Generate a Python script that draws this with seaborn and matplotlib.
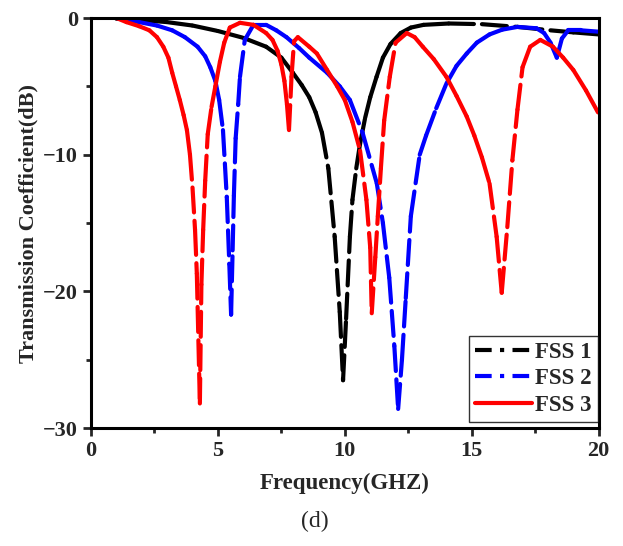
import pandas as pd
import seaborn as sns
import matplotlib.pyplot as plt
from matplotlib.lines import Line2D

# FSS 1 (black)
fss1_f = [1.0, 2.0, 3.0, 4.0, 5.0, 6.0, 6.9, 7.5, 7.95, 8.3, 8.6, 8.85, 9.1, 9.35,
          9.6, 9.8, 9.93, 10.05, 10.2, 10.3, 10.45, 10.6, 10.8, 11.0, 11.25, 11.5,
          11.8, 12.2, 12.6, 13.1, 14.1, 15.4, 16.8, 18.1, 19.0, 20.0]
fss1_db = [-0.05, -0.15, -0.3, -0.55, -0.95, -1.45, -2.1, -2.9, -4.0, -4.9, -5.8,
           -6.9, -8.4, -11.0, -16.0, -21.5, -26.5, -22.0, -16.0, -13.3, -11.0, -9.2,
           -7.3, -5.8, -4.3, -2.9, -1.9, -1.1, -0.7, -0.5, -0.4, -0.45, -0.65, -0.9,
           -1.05, -1.2]

# FSS 2 (blue)
fss2_f = [1.0, 1.9, 2.6, 3.2, 3.7, 4.2, 4.5, 4.7, 4.9, 5.05, 5.2, 5.35, 5.45, 5.52,
          5.58, 5.63, 5.7, 5.8, 5.87, 6.06, 6.4, 6.9, 7.3, 7.7, 8.2, 8.6, 9.3, 9.8,
          10.2, 10.7, 11.26, 11.5, 11.75, 11.95, 12.1, 12.25, 12.4, 12.6, 12.95, 13.2,
          13.6, 14.0, 14.4, 14.8, 15.2, 15.7, 16.2, 16.8, 17.55, 17.85, 18.1, 18.35,
          18.55, 18.8, 19.3, 20.0]
fss2_db = [0.0, -0.3, -0.55, -0.9, -1.4, -2.1, -2.8, -3.6, -4.6, -6.0, -8.2, -13.1,
           -18.0, -21.7, -17.0, -13.0, -8.8, -6.3, -4.3, -1.6, -0.5, -0.5, -0.9, -1.4,
           -2.2, -2.9, -4.0, -5.0, -6.0, -8.4, -12.1, -15.0, -19.0, -24.0, -28.6,
           -25.0, -20.5, -14.5, -10.0, -8.6, -6.6, -4.8, -3.5, -2.6, -1.8, -1.2,
           -0.85, -0.65, -0.75, -1.1, -1.8, -2.9, -1.5, -0.9, -0.9, -1.0]

# FSS 3 (red)
fss3_f = [1.0, 1.4, 1.9, 2.3, 2.6, 2.85, 3.05, 3.2, 3.35, 3.5, 3.65, 3.78, 3.9, 4.0,
          4.1, 4.17, 4.29, 4.35, 4.42, 4.5, 4.6, 4.75, 4.9, 5.08, 5.25, 5.47, 5.87,
          6.4, 6.9, 7.15, 7.35, 7.5, 7.62, 7.72, 7.8, 7.9, 8.0, 8.15, 8.6, 8.9, 9.3,
          9.7, 10.0, 10.3, 10.6, 10.85, 11.0, 11.06, 11.2, 11.3, 11.42, 11.55, 11.77,
          12.0, 12.44, 12.75, 13.07, 13.5, 14.0, 14.4, 14.8, 15.1, 15.4, 15.7, 15.98,
          16.18, 16.4, 16.6, 16.8, 17.0, 17.3, 17.7, 18.2, 18.6, 19.0, 19.5, 20.0]
fss3_db = [0.0, -0.3, -0.6, -0.9, -1.4, -2.1, -2.9, -4.0, -5.0, -6.0, -7.1, -8.2,
           -10.0, -12.4, -15.5, -18.7, -28.2, -19.5, -15.5, -11.9, -8.5, -6.5, -5.0,
           -3.2, -1.8, -0.7, -0.35, -0.5, -1.1, -1.6, -2.4, -3.4, -4.6, -6.3, -8.2,
           -4.3, -1.7, -1.4, -2.1, -2.6, -3.8, -5.0, -6.0, -7.6, -9.7, -13.3, -16.8,
           -21.6, -17.5, -14.5, -11.0, -7.5, -4.3, -1.8, -1.1, -1.4, -2.1, -3.0,
           -4.3, -5.7, -7.2, -8.6, -10.2, -12.1, -16.0, -20.1, -15.3, -10.4, -6.7,
           -3.6, -2.1, -1.6, -2.1, -2.9, -3.8, -5.3, -7.0]

names = ["FSS 1", "FSS 2", "FSS 3"]
colors = {"FSS 1": "black", "FSS 2": "#0000ff", "FSS 3": "#ff0000"}

# one unit per segment, so the dash pattern restarts on every step (Origin look)
rows = []
for name, f, db in zip(names, [fss1_f, fss2_f, fss3_f], [fss1_db, fss2_db, fss3_db]):
    for i in range(len(f) - 1):
        seg = f"{name}-{i}"
        rows.append((name, seg, f[i], db[i]))
        rows.append((name, seg, f[i + 1], db[i + 1]))
df = pd.DataFrame(rows, columns=["series", "seg", "freq", "db"])

sns.set_style("ticks")
plt.rcParams["font.family"] = ["Liberation Serif", "DejaVu Serif"]
plt.rcParams["font.weight"] = "bold"
plt.rcParams["axes.labelweight"] = "bold"

fig = plt.figure(figsize=(6.23, 5.46), dpi=100)
ax = fig.add_axes([0.146, 0.216, 0.815, 0.751])

sns.lineplot(data=df, x="freq", y="db", hue="series", style="series", units="seg",
             estimator=None, sort=False, palette=colors,
             dashes={n: (6, 2) for n in names}, linewidth=3, legend=False,
             dash_capstyle="round", solid_capstyle="round", ax=ax)

ax.set_xlim(0, 20)
ax.set_ylim(-30, 0)
ax.set_xticks([0, 5, 10, 15, 20])
ax.set_yticks([-30, -20, -10, 0])
ax.set_xticks([2.5, 7.5, 12.5, 17.5], minor=True)
ax.set_yticks([-25, -15, -5], minor=True)
ax.tick_params(which="major", direction="out", length=6, width=2, labelsize=16)
ax.tick_params(which="minor", direction="out", length=3.5, width=2)
for s in ax.spines.values():
    s.set_linewidth(2.2)
    s.set_color("black")

ax.set_xlabel("Frequency(GHZ)", fontsize=16.5, labelpad=8)
ax.set_ylabel("Transmission Coefficient(dB)", fontsize=16, labelpad=3)
fig.text(0.506, 0.045, "(d)", ha="center", va="center", fontsize=17, fontweight="normal")

handles = [
    Line2D([], [], color="black", lw=3, linestyle=(0, (4, 2, 1, 2))),
    Line2D([], [], color="#0000ff", lw=3, linestyle=(0, (4, 2, 1, 2))),
    Line2D([], [], color="#ff0000", lw=3),
]
leg = ax.legend(handles, names, loc="lower right", bbox_to_anchor=(0.998, 0.015),
                fontsize=16.5, frameon=True, fancybox=False, handlelength=2.5,
                handletextpad=0.15, borderpad=0.25, labelspacing=0.25, borderaxespad=0)
leg.get_frame().set_edgecolor("black")
leg.get_frame().set_linewidth(1)

plt.savefig("out.png", dpi=100)
